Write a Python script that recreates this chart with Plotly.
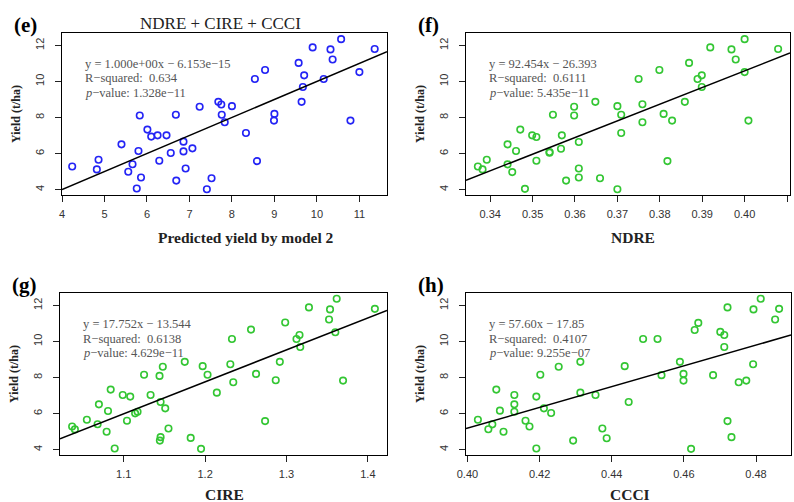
import plotly.graph_objects as go

# ---------------- data ----------------
e_x = [4.24, 4.82, 4.86, 5.40, 5.66, 5.56, 5.80, 6.01, 5.76, 5.83, 5.86, 6.10, 6.25, 6.46,
       6.29, 6.56, 6.68, 6.69, 6.86, 6.86, 6.91, 7.07, 7.24, 7.41, 7.52, 7.68, 7.75, 7.76,
       7.83, 8.00, 8.33, 8.54, 8.59, 8.78, 9.00, 8.99, 9.57, 9.64, 9.67, 9.70, 9.90, 10.16,
       10.32, 10.37, 10.57, 10.79, 11.00, 11.36]
e_y = [5.28, 5.12, 5.66, 6.51, 5.41, 4.99, 6.14, 7.33, 4.06, 8.11, 4.67, 6.94, 7.01, 7.01,
       5.60, 6.03, 8.15, 4.50, 6.12, 6.66, 5.17, 6.29, 8.60, 4.02, 4.63, 8.87, 8.72, 8.15,
       7.74, 8.63, 7.14, 10.14, 5.58, 10.64, 8.20, 7.83, 11.03, 8.87, 9.69, 10.34, 11.89, 10.14,
       11.78, 11.22, 12.35, 7.83, 10.52, 11.80]

f_x = [0.3371, 0.3382, 0.3392, 0.3441, 0.3441, 0.3452, 0.3461, 0.3471, 0.3482, 0.3499,
       0.3509, 0.3509, 0.3540, 0.3540, 0.3548, 0.3569, 0.3579, 0.3567, 0.3598, 0.3598,
       0.3609, 0.3609, 0.3609, 0.3648, 0.3659, 0.3700, 0.3709, 0.3709, 0.3700, 0.3750,
       0.3759, 0.3759, 0.3799, 0.3809, 0.3818, 0.3829, 0.3859, 0.3869, 0.3889, 0.3899,
       0.3899, 0.3919, 0.3969, 0.3979, 0.4000, 0.4000, 0.4009, 0.4079]
f_y = [5.28, 5.12, 5.66, 6.51, 5.40, 4.97, 6.14, 7.33, 4.04, 7.01,
       6.92, 5.60, 6.08, 6.05, 8.15, 7.01, 4.50, 6.27, 8.60, 8.11,
       6.64, 5.17, 4.67, 8.87, 4.63, 8.63, 8.15, 7.14, 4.02, 10.14,
       8.74, 7.74, 10.64, 8.20, 5.58, 7.83, 8.87, 11.03, 10.14, 10.34,
       9.69, 11.89, 11.78, 11.22, 12.35, 10.52, 7.83, 11.80]

g_x = [1.0366, 1.0400, 1.0547, 1.0695, 1.0679, 1.0790, 1.0807, 1.0840, 1.0889, 1.0988,
       1.1080, 1.1040, 1.1140, 1.1170, 1.1250, 1.1330, 1.1440, 1.1480, 1.1453, 1.1510,
       1.1550, 1.1444, 1.1453, 1.1750, 1.1823, 1.1950, 1.1970, 1.2030, 1.2144, 1.2310,
       1.2330, 1.2346, 1.2564, 1.2626, 1.2737, 1.2868, 1.2918, 1.2984, 1.3123, 1.3160,
       1.3169, 1.3276, 1.3523, 1.3535, 1.3600, 1.3617, 1.3695, 1.4086]
g_y = [5.28, 5.12, 5.66, 6.51, 5.41, 4.99, 6.14, 7.33, 4.06, 7.03,
       6.94, 5.60, 6.01, 6.10, 8.15, 7.03, 8.09, 8.60, 6.64, 6.29,
       5.17, 4.50, 4.69, 8.87, 4.65, 4.04, 8.63, 8.15, 7.16, 8.74,
       10.14, 7.74, 10.66, 8.20, 5.58, 7.85, 8.87, 11.05, 10.14, 10.36,
       9.69, 11.89, 11.22, 11.78, 10.51, 12.37, 7.83, 11.81]

h_x = [0.4029, 0.4058, 0.4069, 0.4080, 0.4090, 0.4100, 0.4130, 0.4130, 0.4130, 0.4161,
       0.4172, 0.4191, 0.4191, 0.4202, 0.4212, 0.4232, 0.4253, 0.4293, 0.4313, 0.4313,
       0.4355, 0.4374, 0.4386, 0.4436, 0.4447, 0.4487, 0.4527, 0.4538, 0.4589, 0.4599,
       0.4599, 0.4620, 0.4630, 0.4640, 0.4681, 0.4701, 0.4712, 0.4712, 0.4721, 0.4721,
       0.4732, 0.4752, 0.4773, 0.4792, 0.4793, 0.4813, 0.4853, 0.4864]
h_y = [5.66, 5.13, 5.40, 7.33, 6.16, 4.99, 7.03, 6.51, 6.10, 5.60,
       5.28, 6.94, 4.06, 8.15, 6.29, 6.03, 8.60, 4.50, 8.87, 7.16,
       7.03, 5.17, 4.63, 8.63, 6.64, 10.14, 10.14, 8.13, 8.87, 8.20,
       7.83, 4.04, 10.64, 11.03, 8.13, 10.53, 10.36, 9.69, 11.89, 5.58,
       4.69, 7.74, 7.83, 8.74, 11.78, 12.37, 11.22, 11.81]

# regression coefficients (slope, intercept)
slopes = [1.000, 92.454, 17.752, 57.60]
intercepts = [-6.153e-15, -26.393, -13.544, -17.85]

panel_labels = ["(e)", "(f)", "(g)", "(h)"]
x_titles = ["Predicted yield by model 2", "NDRE", "CIRE", "CCCI"]
y_title = "Yield (t/ha)"
main_title = "NDRE + CIRE + CCCI"
stat_text = [
    ["y = 1.000e+00x − 6.153e−15", "R−squared:  0.634", "<i>p</i>−value: 1.328e−11"],
    ["y = 92.454x − 26.393", "R−squared:  0.6111", "<i>p</i>−value: 5.435e−11"],
    ["y = 17.752x − 13.544", "R−squared:  0.6138", "<i>p</i>−value: 4.629e−11"],
    ["y = 57.60x − 17.85", "R−squared:  0.4107", "<i>p</i>−value: 9.255e−07"],
]
x_tickvals = [[4, 5, 6, 7, 8, 9, 10, 11],
              [0.34, 0.35, 0.36, 0.37, 0.38, 0.39, 0.40, 0.41],
              [1.1, 1.2, 1.3, 1.4],
              [0.40, 0.42, 0.44, 0.46, 0.48]]
x_ticktext = [["4", "5", "6", "7", "8", "9", "10", "11"],
              ["0.34", "0.35", "0.36", "0.37", "0.38", "0.39", "0.40", "0.41"],
              ["1.1", "1.2", "1.3", "1.4"],
              ["0.40", "0.42", "0.44", "0.46", "0.48"]]
y_tickvals = [4, 6, 8, 10, 12]

# ---------------- layout geometry ----------------
W, H = 794, 502
xs = [e_x, f_x, g_x, h_x]
ys = [e_y, f_y, g_y, h_y]
colors = ["#2323f5", "#33c633", "#33c633", "#33c633"]
x_ranges = [[4.0, 11.65], [0.3343, 0.4107], [1.0217, 1.4235], [0.3996, 0.4897]]
y_range = [3.70, 12.69]
# pixel boxes: left, right, top, bottom
boxes = [(62, 387, 33, 195), (466, 790, 33, 195), (60, 387, 293, 455), (466, 791, 293, 455)]
# x-title centres (px) and vertical offsets below the box
x_title_cx = [246, 633, 224, 630]
x_title_dy = [42, 42, 39, 39]

serif = "Liberation Serif"
sans = "Liberation Sans"

fig = go.Figure()
annotations = []
for i in range(4):
    xa = "x" if i == 0 else f"x{i+1}"
    ya = "y" if i == 0 else f"y{i+1}"
    fig.add_trace(go.Scatter(
        x=xs[i], y=ys[i], mode="markers", xaxis=xa, yaxis=ya,
        marker=dict(symbol="circle-open", size=6.5, color=colors[i], line=dict(width=1.6, color=colors[i])),
        showlegend=False, hoverinfo="x+y"))
    x0, x1 = x_ranges[i]
    fig.add_trace(go.Scatter(
        x=[x0, x1], y=[slopes[i] * x0 + intercepts[i], slopes[i] * x1 + intercepts[i]],
        mode="lines", xaxis=xa, yaxis=ya, line=dict(color="black", width=1.5),
        showlegend=False, hoverinfo="skip", cliponaxis=True))
    l, r, t, b = boxes[i]
    axis_common = dict(showline=True, linecolor="black", linewidth=1.3, mirror=True,
                       ticks="outside", ticklen=6, tickwidth=1, tickcolor="#222",
                       showgrid=False, zeroline=False, automargin=False,
                       tickfont=dict(family=sans, size=11, color="#333"))
    fig.update_layout(**{
        ("xaxis" if i == 0 else f"xaxis{i+1}"): dict(
            domain=[l / W, r / W], anchor=ya, range=x_ranges[i], ticklabelstandoff=3,
            tickvals=x_tickvals[i], ticktext=x_ticktext[i], **axis_common),
        ("yaxis" if i == 0 else f"yaxis{i+1}"): dict(
            domain=[1 - b / H, 1 - t / H], anchor=xa, range=y_range, ticklabelstandoff=6,
            tickvals=y_tickvals, tickangle=-90, **axis_common),
    })
    # panel label
    annotations.append(dict(text=f"<b>{panel_labels[i]}</b>", x=(l - 50) / W, y=1 - (t - 8) / H,
                            xref="paper", yref="paper", xanchor="left", yanchor="middle",
                            showarrow=False, font=dict(family=serif, size=21, color="black")))
    # x title
    annotations.append(dict(text=f"<b>{x_titles[i]}</b>", x=x_title_cx[i] / W,
                            y=1 - (b + x_title_dy[i]) / H, xref="paper", yref="paper",
                            xanchor="center", yanchor="middle", showarrow=False,
                            font=dict(family=serif, size=15.5, color="#222")))
    # y title
    annotations.append(dict(text=f"<b>{y_title}</b>", x=(l - 46) / W, y=1 - (t + b) / 2 / H,
                            xref="paper", yref="paper", xanchor="center", yanchor="middle",
                            textangle=-90, showarrow=False,
                            font=dict(family=serif, size=12, color="#222")))
    # stats text
    for k, line in enumerate(stat_text[i]):
        annotations.append(dict(text=line, x=(l + 21) / W, y=1 - (t + 31 + 14.5 * k) / H,
                                xref="paper", yref="paper", xanchor="left", yanchor="middle",
                                showarrow=False, font=dict(family=serif, size=12.5, color="#555")))

annotations.append(dict(text=main_title, x=220 / W, y=1 - 24 / H, xref="paper", yref="paper",
                        xanchor="center", yanchor="middle", showarrow=False,
                        font=dict(family=serif, size=17, color="#222")))

fig.update_layout(width=W, height=H, margin=dict(l=0, r=0, t=0, b=0),
                  paper_bgcolor="white", plot_bgcolor="white", annotations=annotations)

fig.write_html("out.html", config={"displayModeBar": False},
               post_script="document.body.style.margin='0';document.body.style.padding='0';"
                           "document.body.style.overflow='hidden';")
